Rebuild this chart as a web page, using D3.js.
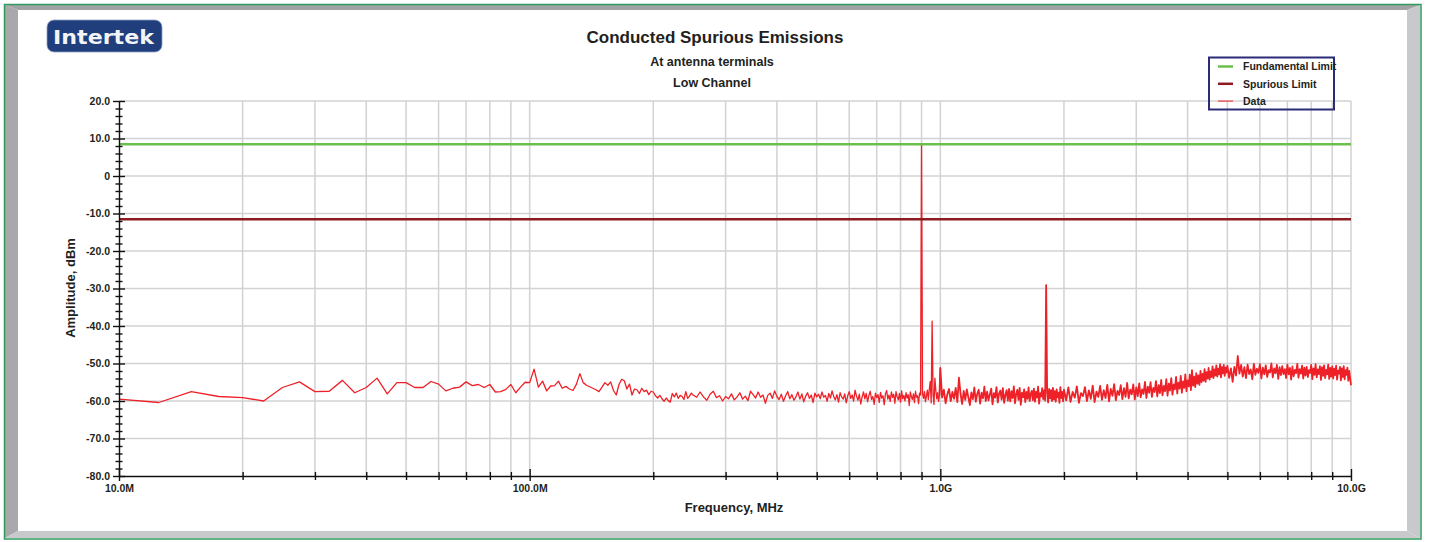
<!DOCTYPE html>
<html>
<head>
<meta charset="utf-8">
<script src="https://cdn.jsdelivr.net/npm/d3@7"></script>
<style>
  body { margin: 0; background: #fff; }
  text { font-family: "Liberation Sans", Arial, sans-serif; font-weight: bold; fill: #231f20; }
</style>
</head>
<body>
<div id="chart-area"></div>
<script>
// *********************
// Data
// *********************

// chart texts
const chartTitle = "Conducted Spurious Emissions";
const chartSubtitles = ["At antenna terminals", "Low Channel"];
const xTitle = "Frequency, MHz";
const yTitle = "Amplitude, dBm";

// axis ticks (frequency in MHz, amplitude in dBm)
const xTickValues = [10, 100, 1000, 10000];
const xTickLabels = ["10.0M", "100.0M", "1.0G", "10.0G"];
const yTickValues = [-80, -70, -60, -50, -40, -30, -20, -10, 0, 10, 20];
const yTickLabels = ["-80.0", "-70.0", "-60.0", "-50.0", "-40.0", "-30.0", "-20.0", "-10.0", "0", "10.0", "20.0"];

// limits
const limitNames = ["Fundamental Limit", "Spurious Limit"];
const limitValues = [8.5, -11.5];

// sweep segments: start frequency (MHz), step (MHz), measured amplitudes (dBm)
const sweepStarts = [10, 255, 505, 1000, 2000, 5000];
const sweepSteps = [2.5, 5, 5, 10, 25, 50];

const ampSeg1 = [
  -59.5, -60.4, -57.5, -58.8, -59.1, -60.0, -56.4, -54.9, -57.5, -57.4,
  -54.5, -57.8, -56.4, -53.9, -58.1, -55.1, -55.1, -56.4, -56.4, -54.8,
  -55.5, -57.3, -56.6, -56.3, -54.9, -55.9, -55.6, -56.4, -55.6, -57.6,
  -57.5, -56.9, -55.6, -57.8, -56.3, -55.0, -55.1, -51.5, -56.3, -54.7,
  -57.3, -56.0, -55.9, -54.7, -56.6, -56.1, -56.8, -57.2, -55.5, -52.7,
  -55.1, -55.8, -56.2, -56.6, -57.0, -57.5, -56.3, -55.1, -55.8, -54.9,
  -57.2, -58.4, -55.6, -54.2, -54.6, -56.8, -55.5, -58.4, -56.8, -57.0,
  -58.0, -56.6, -57.5, -57.1, -58.3, -57.4, -57.6, -58.6, -59.2, -58.5,
  -59.4, -60.1, -59.2, -59.9, -60.3, -58.0, -58.9, -57.9, -59.3, -58.5,
  -58.8, -59.6, -57.5, -59.3, -58.7, -57.9, -58.4
];

const ampSeg2 = [
  -59.0, -57.6, -58.9, -59.8, -58.2, -57.4, -59.1, -58.6, -60.0, -58.8,
  -59.4, -58.1, -59.7, -58.9, -57.8, -59.5, -58.7, -59.9, -57.4, -58.3,
  -59.2, -57.6, -59.0, -58.4, -60.6, -58.5, -57.9, -59.3, -57.3, -58.8,
  -59.6, -58.2, -60.1, -58.6, -57.5, -59.4, -58.3, -59.8, -58.9, -57.6,
  -59.5, -58.1, -60.2, -58.7, -57.8, -59.3, -58.4, -60.4, -57.9, -58.9
];

const ampSeg3 = [
  -58.2, -59.4, -57.6, -59.0, -58.5, -60.1, -58.0, -59.2, -57.3, -58.8,
  -59.7, -58.3, -60.3, -57.8, -58.9, -59.5, -58.1, -60.5, -58.6, -57.5,
  -59.3, -58.4, -60.0, -57.1, -58.7, -59.8, -58.2, -60.8, -58.9, -57.6,
  -59.4, -58.0, -60.2, -58.5, -57.4, -59.6, -58.8, -60.9, -57.9, -59.1,
  -58.3, -60.4, -57.7, -59.2, -58.6, -61.0, -58.1, -57.2, -59.5, -58.4,
  -60.1, -57.6, -59.0, -58.2, -60.6, -57.5, -58.9, -59.7, -58.0, -60.3,
  -57.3, -59.4, -58.5, -60.0, -57.8, -59.2, -58.3, -61.2, -57.6, -58.8,
  -59.6, -58.1, -60.4, -57.4, -59.0, -58.6, -60.7, -57.9, -58.4, 8.5,
  -58.0, -59.3, -57.5, -60.2, -58.7, -57.1, -59.6, -56.9, -54.8, -60.5,
  -38.7, -58.3, -60.9, -53.9, -57.2, -59.4, -57.8, -60.1, -58.5
];

const ampSeg4 = [
  -51.2, -59.1, -57.0, -60.6, -58.2, -56.8, -60.0, -57.6, -59.4, -56.5,
  -60.3, -53.8, -58.0, -60.8, -57.3, -59.7, -56.9, -59.0, -61.1, -57.7,
  -59.5, -56.4, -60.2, -58.1, -57.0, -60.7, -57.8, -59.3, -56.2, -60.0,
  -57.5, -59.8, -58.3, -56.7, -60.9, -57.9, -59.1, -56.3, -60.4, -58.0,
  -57.2, -59.6, -56.6, -60.5, -58.4, -57.1, -59.9, -56.8, -60.1, -57.4,
  -59.2, -56.1, -60.6, -58.2, -57.0, -59.7, -56.5, -61.0, -57.8, -59.0,
  -56.9, -60.3, -57.6, -59.4, -56.4, -60.0, -58.1, -57.3, -59.8, -56.7,
  -60.2, -57.5, -59.1, -56.2, -60.7, -57.9, -58.8, -56.6, -59.5, -57.2,
  -59.9, -29.1, -57.7, -60.4, -56.8, -59.3, -57.1, -60.0, -56.5, -59.6,
  -57.4, -60.2, -56.9, -59.0, -57.8, -60.5, -56.3, -59.2, -57.6, -60.1
];

const ampSeg5 = [
  -57.0, -59.8, -56.4, -60.2, -57.6, -59.1, -56.1, -60.5, -57.9, -58.7,
  -56.3, -60.0, -57.2, -59.4, -55.9, -60.3, -57.5, -58.9, -56.0, -59.7,
  -57.1, -59.2, -55.7, -60.1, -56.8, -58.6, -55.5, -59.8, -57.3, -58.4,
  -55.8, -59.5, -56.6, -58.9, -55.2, -59.3, -57.0, -58.2, -55.6, -59.6,
  -56.4, -58.7, -55.3, -59.0, -56.9, -58.1, -54.9, -59.2, -56.2, -57.8,
  -55.0, -58.9, -56.5, -57.6, -54.7, -58.8, -55.8, -57.9, -54.4, -58.5,
  -56.0, -57.4, -54.2, -58.6, -55.4, -57.2, -53.9, -58.3, -55.6, -56.9,
  -53.6, -58.0, -55.1, -56.7, -53.3, -57.8, -54.8, -56.5, -52.9, -57.4,
  -54.5, -56.1, -53.0, -57.1, -51.8, -55.9, -53.5, -56.3, -52.6, -55.4,
  -53.2, -55.7, -52.0, -55.0, -52.8, -54.6, -51.5, -54.9, -52.3, -54.0,
  -51.2, -54.3, -52.1, -53.6, -50.8, -53.9, -51.6, -53.2, -50.5, -53.5,
  -51.4, -52.9, -50.2, -53.7, -51.0, -52.6, -50.4, -53.3, -51.1, -52.4
];

const ampSeg6 = [
  -50.6, -53.8, -51.3, -54.9, -50.9, -53.2, -48.0, -52.7, -50.4, -53.5,
  -51.0, -53.9, -50.3, -52.8, -51.6, -54.2, -50.1, -53.0, -51.4, -52.5,
  -50.2, -54.0, -51.1, -52.9, -50.5, -53.6, -51.8, -52.4, -50.0, -53.7,
  -51.3, -52.6, -50.4, -54.1, -51.0, -53.1, -50.7, -52.8, -51.5, -53.9,
  -50.3, -52.9, -51.2, -54.3, -50.8, -53.4, -51.7, -52.6, -50.1, -53.8,
  -51.5, -52.7, -50.6, -54.0, -51.1, -53.2, -50.9, -53.6, -51.8, -52.5,
  -50.4, -54.2, -51.3, -53.0, -50.2, -53.7, -51.6, -52.8, -50.7, -54.4,
  -51.0, -53.3, -50.5, -53.9, -51.7, -52.9, -50.3, -54.1, -51.2, -53.5,
  -50.8, -54.0, -51.4, -53.1, -50.6, -54.3, -51.9, -52.7, -50.9, -54.5,
  -51.3, -53.6, -50.7, -54.2, -51.8, -53.0, -51.1, -54.6, -52.0, -53.8,
  -55.8
];

const ampSegments = [ampSeg1, ampSeg2, ampSeg3, ampSeg4, ampSeg5, ampSeg6];

// *********************
// Basic setup SVG
// *********************

const width = 1429;
const height = 542;

const margin = {left: 119, right: 78, top: 101, bottom: 66};
const plotW = width - margin.left - margin.right;
const plotH = height - margin.top - margin.bottom;

const svg = d3.select("#chart-area")
  .append("svg")
  .attr("width", width)
  .attr("height", height);

svg.append("rect")
  .attr("width", width)
  .attr("height", height)
  .attr("fill", "#fff");

// Bevelled frame
const fL = 5, fT = 5, fR = 1420, fB = 538, iL = 18, iT = 10, iR = 1407, iB = 531;
const bevel = [
  {pts: [[fL,fT],[fR,fT],[iR,iT],[iL,iT]], fill: "#a2a2a4"},
  {pts: [[fL,fT],[iL,iT],[iL,iB],[fL,fB]], fill: "#a9a9ab"},
  {pts: [[fR,fT],[fR,fB],[iR,iB],[iR,iT]], fill: "#c8c9cb"},
  {pts: [[fL,fB],[fR,fB],[iR,iB],[iL,iB]], fill: "#c8c9cb"}
];
svg.selectAll("polygon.bevel")
  .data(bevel)
  .enter()
  .append("polygon")
  .attr("class", "bevel")
  .attr("points", d => d.pts.map(p => p.join(",")).join(" "))
  .attr("fill", d => d.fill);

svg.append("rect")
  .attr("x", 4.5)
  .attr("y", 4.5)
  .attr("width", 1416.5)
  .attr("height", 534.5)
  .attr("fill", "none")
  .attr("stroke", "#2e9a5c")
  .attr("stroke-width", 1.5);

// Logo
const logo = svg.append("g");
logo.append("rect")
  .attr("x", 47)
  .attr("y", 20)
  .attr("width", 115)
  .attr("height", 32)
  .attr("rx", 7)
  .attr("fill", "#1f3e7b")
  .attr("stroke", "#8aa0c4")
  .attr("stroke-width", 0.8);
logo.append("text")
  .attr("x", 53)
  .attr("y", 43.5)
  .attr("textLength", 101)
  .attr("lengthAdjust", "spacingAndGlyphs")
  .style("font-family", "'DejaVu Sans', sans-serif")
  .style("font-size", "19.5px")
  .style("fill", "#f2f4f8")
  .text("Intertek");

// Titles
svg.append("text")
  .attr("x", 715)
  .attr("y", 43)
  .attr("text-anchor", "middle")
  .attr("font-size", "17px")
  .text(chartTitle);

chartSubtitles.forEach((s, i) => {
  svg.append("text")
    .attr("x", 712)
    .attr("y", 66 + i * 21)
    .attr("text-anchor", "middle")
    .attr("font-size", "12.5px")
    .text(s);
});

// *********************
// Scales
// *********************

const x = d3.scaleLog()
  .domain([10, 10000])
  .range([margin.left, margin.left + plotW]);

const y = d3.scaleLinear()
  .domain([-80, 20])
  .range([margin.top + plotH, margin.top]);

// minor positions
const xMinorTicks = [10, 100, 1000].flatMap(dec => [2,3,4,5,6,7,8,9].map(m => dec * m));
const yMinorTicks = d3.range(-80, 21, 2).filter(v => v % 10 !== 0);

// *********************
// Grid
// *********************

const grid = svg.append("g").attr("class", "grid");

grid.selectAll("line.hgrid")
  .data(yTickValues.filter(v => v !== -80))
  .enter()
  .append("line")
  .attr("class", "hgrid")
  .attr("x1", x(10))
  .attr("x2", x(10000))
  .attr("y1", d => y(d))
  .attr("y2", d => y(d))
  .attr("stroke", "#d2d2d2")
  .attr("stroke-width", 1.5);

grid.selectAll("line.vgrid")
  .data(xMinorTicks.concat([100, 1000, 10000]))
  .enter()
  .append("line")
  .attr("class", "vgrid")
  .attr("x1", d => x(d))
  .attr("x2", d => x(d))
  .attr("y1", y(20))
  .attr("y2", y(-80))
  .attr("stroke", "#d2d2d2")
  .attr("stroke-width", 1.5);

// *********************
// Data line
// *********************

const points = [];
ampSegments.forEach((seg, s) => {
  seg.forEach((a, i) => {
    points.push({f: sweepStarts[s] + i * sweepSteps[s], a: a});
  });
});

const line = d3.line()
  .x(d => x(d.f))
  .y(d => y(d.a));

// resolved part below 1 GHz thin, dense sweep above 1 GHz drawn heavier
const lowPart = points.filter(d => d.f <= 1000);
const highPart = points.filter(d => d.f >= 995);

svg.append("path")
  .datum(lowPart)
  .attr("d", line)
  .attr("fill", "none")
  .attr("stroke", "#ee2128")
  .attr("stroke-width", 1.3)
  .attr("stroke-linejoin", "round");

svg.append("path")
  .datum(highPart)
  .attr("d", line)
  .attr("fill", "none")
  .attr("stroke", "#ee2128")
  .attr("stroke-width", 1.8)
  .attr("stroke-linejoin", "round");

// Limits
const limitColors = ["#6cbf4a", "#8c1c20"];
svg.selectAll("line.limit")
  .data(limitValues)
  .enter()
  .append("line")
  .attr("class", "limit")
  .attr("x1", x(10))
  .attr("x2", x(10000))
  .attr("y1", d => y(d))
  .attr("y2", d => y(d))
  .attr("stroke", (d, i) => limitColors[i])
  .attr("stroke-width", 2.5);

// *********************
// Axes
// *********************

const yAxis = d3.axisLeft(y)
  .tickValues(yTickValues)
  .tickFormat((d, i) => yTickLabels[i])
  .tickSize(6)
  .tickSizeOuter(0)
  .tickPadding(3);

const yAxisGroup = svg.append("g")
  .attr("transform", "translate(" + margin.left + ",0)")
  .call(yAxis);
yAxisGroup.selectAll(".tick line").attr("x1", 6);

const yMinor = svg.append("g")
  .attr("transform", "translate(" + margin.left + ",0)")
  .call(d3.axisLeft(y).tickValues(yMinorTicks).tickFormat("").tickSize(3.5).tickSizeOuter(0));
yMinor.select(".domain").remove();
yMinor.selectAll(".tick line").attr("x1", 3.5);

const xAxis = d3.axisBottom(x)
  .tickValues(xTickValues)
  .tickFormat((d, i) => xTickLabels[i])
  .tickSize(5)
  .tickSizeOuter(0)
  .tickPadding(4);

const xAxisGroup = svg.append("g")
  .attr("transform", "translate(0," + (margin.top + plotH) + ")")
  .call(xAxis);
xAxisGroup.selectAll(".tick line").attr("y1", -7);

const xMinor = svg.append("g")
  .attr("transform", "translate(0," + (margin.top + plotH) + ")")
  .call(d3.axisBottom(x).tickValues(xMinorTicks).tickFormat("").tickSize(4).tickSizeOuter(0));
xMinor.select(".domain").remove();
xMinor.selectAll(".tick line").attr("y1", -4);

svg.selectAll(".domain, .tick line")
  .attr("stroke", "#111")
  .attr("stroke-width", 1.4);

svg.selectAll(".tick text")
  .attr("font-size", "10.5px")
  .attr("font-family", null)
  .style("fill", "#231f20");

// Axis titles
svg.append("text")
  .attr("x", 734)
  .attr("y", 512)
  .attr("text-anchor", "middle")
  .attr("font-size", "13px")
  .text(xTitle);

svg.append("text")
  .attr("transform", "translate(75,288) rotate(-90)")
  .attr("text-anchor", "middle")
  .attr("font-size", "13px")
  .text(yTitle);

// *********************
// Legend
// *********************

const legend = svg.append("g");
legend.append("rect")
  .attr("x", 1209)
  .attr("y", 57.5)
  .attr("width", 125)
  .attr("height", 52)
  .attr("fill", "none")
  .attr("stroke", "#2b2b78")
  .attr("stroke-width", 2);

const legendNames = limitNames.concat(["Data"]);
const legendColors = limitColors.concat(["#ee2128"]);
const legendWidths = [2.5, 2.5, 1];

legendNames.forEach((name, i) => {
  const row = legend.append("g")
    .attr("transform", "translate(0," + (66.5 + i * 17.3) + ")");
  row.append("line")
    .attr("x1", 1218)
    .attr("x2", 1233)
    .attr("stroke", legendColors[i])
    .attr("stroke-width", legendWidths[i]);
  row.append("text")
    .attr("x", 1243)
    .attr("y", 3.8)
    .attr("font-size", "10.5px")
    .text(name);
});
</script>
</body>
</html>
